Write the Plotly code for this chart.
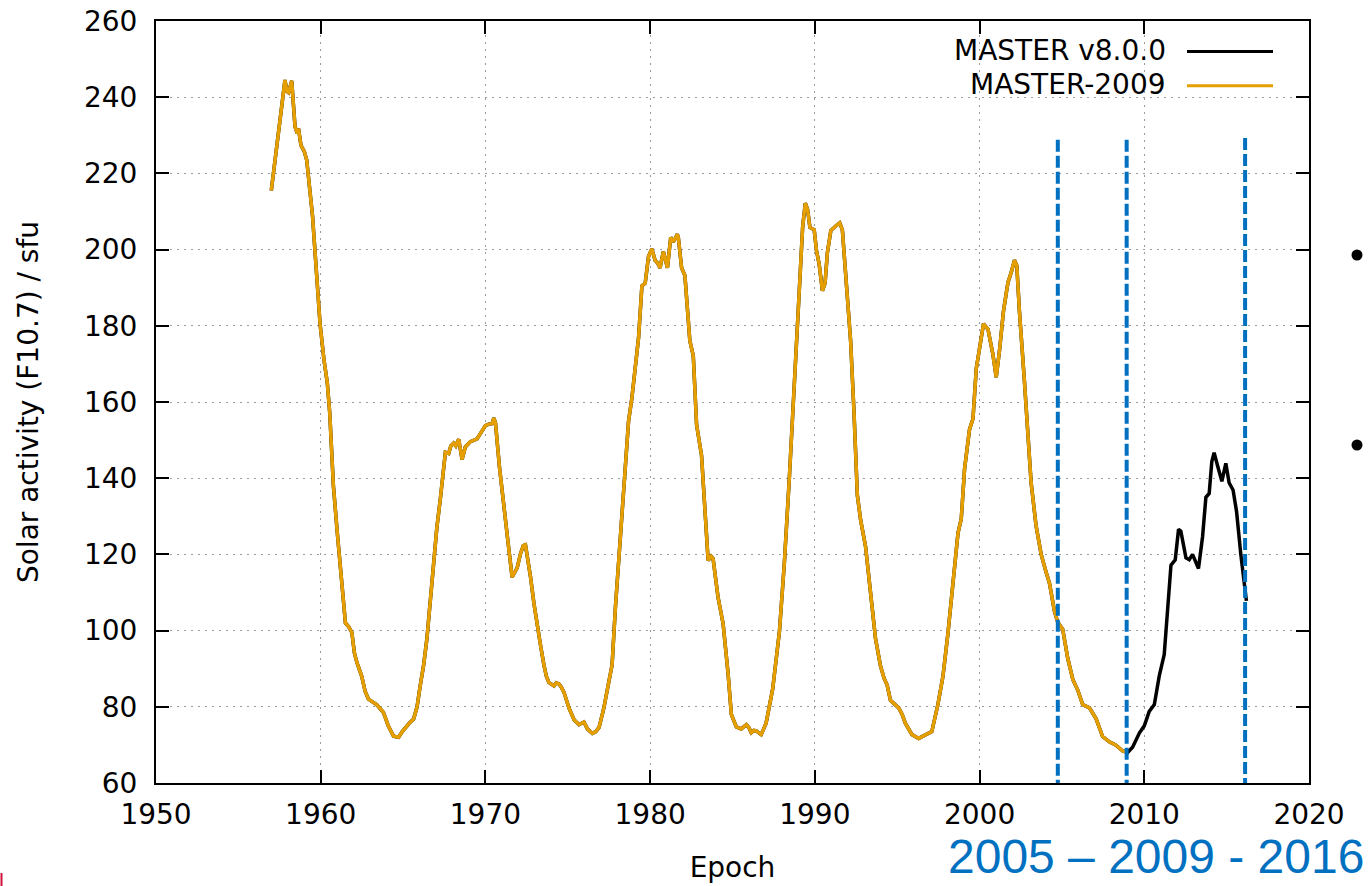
import plotly.graph_objects as go

# ---------------- data ----------------
master2009_epoch = [
    1957.00, 1957.25, 1957.50, 1957.70, 1957.83, 1957.95, 1958.05, 1958.24, 1958.44, 1958.58,
    1958.65, 1958.80, 1959.00, 1959.15, 1959.35, 1959.50, 1959.71, 1959.96, 1960.20, 1960.40,
    1960.55, 1960.77, 1961.00, 1961.18, 1961.40, 1961.50, 1961.70, 1961.89, 1962.05, 1962.20,
    1962.49, 1962.70, 1962.90, 1963.20, 1963.41, 1963.81, 1964.10, 1964.42, 1964.73, 1964.95,
    1965.13, 1965.40, 1965.64, 1965.85, 1966.04, 1966.25, 1966.45, 1966.65, 1966.86, 1967.05,
    1967.26, 1967.45, 1967.57, 1967.77, 1967.90, 1968.07, 1968.20, 1968.38, 1968.50, 1968.58,
    1968.78, 1969.09, 1969.49, 1969.65, 1969.80, 1970.00, 1970.20, 1970.40, 1970.51, 1970.61,
    1970.85, 1971.12, 1971.35, 1971.62, 1971.80, 1971.93, 1972.13, 1972.30, 1972.43, 1972.60,
    1972.74, 1972.95, 1973.14, 1973.35, 1973.55, 1973.70, 1973.85, 1974.16, 1974.30, 1974.46,
    1974.60, 1974.77, 1975.07, 1975.38, 1975.68, 1975.98, 1976.19, 1976.49, 1976.70, 1976.90,
    1977.18, 1977.48, 1977.69, 1977.89, 1978.19, 1978.49, 1978.69, 1978.89, 1979.09, 1979.30,
    1979.50, 1979.70, 1979.90, 1980.10, 1980.30, 1980.45, 1980.60, 1980.80, 1980.95, 1981.05,
    1981.25, 1981.40, 1981.51, 1981.65, 1981.71, 1981.91, 1982.11, 1982.41, 1982.62, 1982.82,
    1983.12, 1983.32, 1983.52, 1983.70, 1983.82, 1984.12, 1984.43, 1984.73, 1984.93, 1985.23,
    1985.53, 1985.84, 1986.00, 1986.14, 1986.30, 1986.44, 1986.74, 1987.04, 1987.44, 1987.85,
    1988.15, 1988.45, 1988.75, 1989.05, 1989.26, 1989.42, 1989.56, 1989.70, 1989.96, 1990.10,
    1990.26, 1990.46, 1990.62, 1990.76, 1990.97, 1991.27, 1991.51, 1991.67, 1991.87, 1992.17,
    1992.37, 1992.58, 1992.78, 1993.08, 1993.38, 1993.68, 1993.98, 1994.20, 1994.39, 1994.59,
    1995.09, 1995.30, 1995.49, 1995.90, 1996.30, 1996.55, 1996.80, 1997.10, 1997.47, 1997.78,
    1998.08, 1998.38, 1998.69, 1998.89, 1999.09, 1999.39, 1999.60, 1999.80, 2000.00, 2000.24,
    2000.51, 2000.81, 2001.01, 2001.21, 2001.45, 2001.72, 2001.92, 2002.12, 2002.26, 2002.42,
    2002.73, 2002.93, 2003.13, 2003.43, 2003.74, 2004.04, 2004.24, 2004.55, 2004.75, 2005.05,
    2005.35, 2005.66, 2005.96, 2006.26, 2006.67, 2007.07, 2007.47, 2007.88, 2008.28, 2008.69,
    2008.99,
]
master2009_f107 = [
    215.5, 224.0, 233.0, 240.0, 244.5, 241.5, 241.2, 244.3, 232.3, 230.5,
    231.8, 227.4, 225.8, 223.5, 216.0, 209.0, 196.0, 180.5, 171.0, 165.0,
    157.0, 138.0, 126.0, 117.0, 105.0, 102.0, 101.0, 99.5, 94.0, 91.6,
    88.0, 84.0, 82.0, 81.2, 80.5, 78.5, 75.0, 72.3, 72.0, 73.5,
    74.5, 75.8, 76.8, 80.0, 85.5, 91.0, 98.0, 108.0, 119.5, 127.0,
    134.5, 142.0, 146.8, 146.5, 148.5, 149.2, 148.5, 150.2, 147.0, 144.9,
    148.2, 149.6, 150.3, 151.5, 152.3, 153.8, 154.2, 154.3, 155.8, 154.5,
    143.0, 133.5, 124.0, 114.0, 115.5, 116.5, 120.2, 122.3, 122.5, 118.0,
    114.0, 107.0, 101.4, 96.0, 91.0, 88.0, 86.4, 85.5, 86.3, 86.0,
    85.2, 83.8, 79.7, 76.6, 75.3, 76.0, 74.2, 73.0, 73.5, 74.6,
    79.5, 85.7, 91.0, 106.0, 125.0, 142.0, 155.0, 161.0, 168.0, 177.0,
    190.5, 191.2, 198.2, 200.2, 197.2, 196.5, 195.2, 199.5, 197.0, 195.2,
    203.2, 202.0, 202.8, 204.0, 203.2, 195.2, 193.2, 176.1, 172.1, 154.0,
    146.0, 132.9, 118.4, 119.5, 118.9, 108.8, 101.8, 88.8, 78.0, 74.7,
    74.2, 75.3, 74.5, 73.2, 73.8, 73.7, 72.7, 75.7, 84.7, 99.8,
    117.9, 140.0, 165.0, 190.2, 206.0, 212.2, 210.5, 205.8, 205.2, 199.7,
    196.2, 189.2, 191.2, 199.2, 205.0, 206.2, 207.0, 205.2, 194.2, 176.1,
    158.0, 135.5, 129.0, 122.0, 110.0, 98.0, 90.8, 87.5, 85.7, 81.7,
    79.7, 78.0, 75.7, 72.7, 71.7, 72.3, 72.8, 73.5, 80.6, 88.1,
    99.3, 112.5, 125.6, 129.4, 142.5, 152.8, 155.6, 168.8, 174.4, 180.5,
    179.1, 172.5, 166.5, 173.5, 183.8, 191.3, 194.0, 197.2, 195.8, 183.8,
    165.0, 151.0, 138.8, 127.5, 120.0, 115.3, 112.5, 105.0, 102.2, 100.3,
    92.8, 87.2, 84.4, 80.6, 79.7, 76.9, 72.2, 70.8, 69.9, 68.4,
    68.0,
]

# MASTER v8.0.0 coincides with MASTER-2009 up to 2009 and continues to 2016
v8_extension_epoch = [
    2009.29, 2009.70, 2010.00, 2010.30, 2010.61, 2010.91, 2011.21, 2011.41, 2011.62, 2011.88,
    2012.08, 2012.22, 2012.53, 2012.73, 2012.93, 2013.29, 2013.54, 2013.74, 2013.94, 2014.10,
    2014.24, 2014.44, 2014.71, 2014.95, 2015.15, 2015.39, 2015.60, 2015.86, 2016.06, 2016.20,
]
v8_extension_f107 = [
    69.4, 73.1, 75.0, 78.8, 80.6, 88.1, 93.7, 105.0, 117.2, 118.6,
    126.6, 126.1, 119.1, 118.6, 120.0, 116.3, 124.7, 135.0, 136.0, 144.4,
    146.7, 143.4, 139.2, 143.9, 138.8, 136.9, 131.3, 120.0, 112.5, 107.8,
]
master_v8_epoch = master2009_epoch + v8_extension_epoch
master_v8_f107 = master2009_f107 + v8_extension_f107

marker_epochs = [2004.75, 2008.93, 2016.12]   # dashed blue markers
marker_tops = [228.8, 228.8, 229.3]

x_ticks = [1950, 1960, 1970, 1980, 1990, 2000, 2010, 2020]
y_ticks = [60, 80, 100, 120, 140, 160, 180, 200, 220, 240, 260]

series_names = ["MASTER v8.0.0", "MASTER-2009"]
series_colors = ["#000000", "#e69f00"]

# ---------------- figure ----------------
FONT = "DejaVu Sans"
L, R, T, B = 156, 61, 21, 103
W, H = 1370, 886
PW, PH = W - L - R, H - T - B


def px(xp):
    return (xp - L) / PW


def py(yp):
    return (H - B - yp) / PH


fig = go.Figure()
fig.add_trace(go.Scatter(x=master_v8_epoch, y=master_v8_f107, mode="lines",
                         name=series_names[0], showlegend=False,
                         line=dict(color=series_colors[0], width=3.5)))
fig.add_trace(go.Scatter(x=master2009_epoch, y=master2009_f107, mode="lines",
                         name=series_names[1], showlegend=False,
                         line=dict(color=series_colors[1], width=3.5)))

shapes = []
for ex, top in zip(marker_epochs, marker_tops):
    shapes.append(dict(type="line", xref="x", yref="y", x0=ex, x1=ex, y0=top, y1=60,
                       line=dict(color="#0070c0", width=4, dash="12px,4px"), layer="above"))

# legend (gnuplot style: text then sample line)
shapes.append(dict(type="rect", xref="paper", yref="paper", x0=px(933), x1=px(1292),
                   y0=py(101), y1=py(22), fillcolor="white", line=dict(width=0), layer="between"))
annotations = []
for i, (nm, col) in enumerate(zip(series_names, series_colors)):
    yc = [51.5, 85.7][i]
    shapes.append(dict(type="line", xref="paper", yref="paper", x0=px(1187), x1=px(1273),
                       y0=py(yc), y1=py(yc), line=dict(color=col, width=3), layer="above"))
    annotations.append(dict(text=nm, xref="paper", yref="paper", x=px(1168), y=py(yc - 1),
                            xanchor="right", yanchor="middle", showarrow=False,
                            font=dict(family=FONT, size=28, color="black")))

# slide decorations
for by in [255, 445]:
    shapes.append(dict(type="circle", xref="paper", yref="paper",
                       x0=px(1357 - 5.5), x1=px(1357 + 5.5), y0=py(by + 5.5), y1=py(by - 5.5),
                       fillcolor="black", line=dict(width=0)))
shapes.append(dict(type="line", xref="paper", yref="paper", x0=px(1.5), x1=px(1.5),
                   y0=py(873), y1=py(886), line=dict(color="#d0103a", width=2)))
annotations.append(dict(text="2005 \u2013 2009 - 2016", xref="paper", yref="paper",
                        x=px(1366), y=py(857), xanchor="right", yanchor="middle", showarrow=False,
                        font=dict(family="Liberation Sans, Arial", size=48, color="#0070c0")))

axis_common = dict(
    showline=True, linecolor="black", linewidth=2, mirror="ticks",
    ticks="inside", ticklen=13, tickwidth=2, tickcolor="black",
    showgrid=True, gridcolor="#9a9a9a", gridwidth=1, griddash="2px,5px",
    zeroline=False, automargin=False,
    tickfont=dict(family=FONT, size=28, color="black"),
)

fig.update_layout(
    width=W, height=H, margin=dict(l=L, r=R, t=T, b=B, pad=0, autoexpand=False),
    paper_bgcolor="white", plot_bgcolor="white", showlegend=False,
    xaxis=dict(range=[1950, 2020], tickvals=x_ticks, ticklabelstandoff=5,
               title=dict(text="Epoch", font=dict(family=FONT, size=28, color="black"), standoff=28),
               **axis_common),
    yaxis=dict(range=[60, 260], tickvals=y_ticks, ticklabelstandoff=11,
               title=dict(text="Solar activity (F10.7) / sfu",
                          font=dict(family=FONT, size=28, color="black"), standoff=37),
               **axis_common),
    shapes=shapes, annotations=annotations,
)

fig.write_html("out.html")
